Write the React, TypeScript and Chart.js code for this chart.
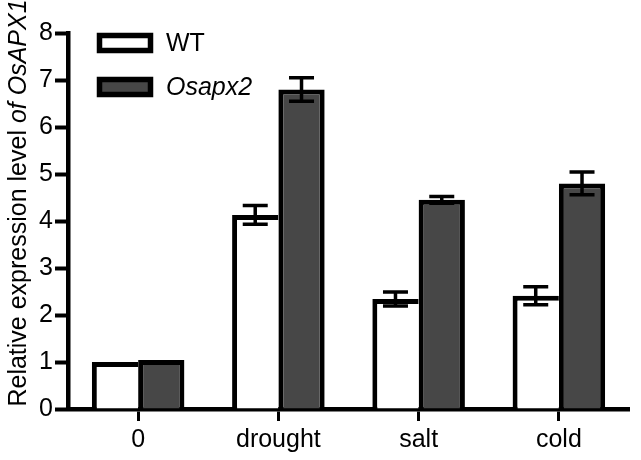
import React, { useEffect, useRef } from 'react';
import { Chart, registerables } from 'chart.js';

Chart.register(...registerables);

const categories = ['0', 'drought', 'salt', 'cold'];
const wtLabel = 'WT';
const mutLabel = 'Osapx2';
const wtValues = [1.0, 4.13, 2.34, 2.41];
const wtErrors = [0, 0.2, 0.15, 0.19];
const mutValues = [1.04, 6.8, 4.45, 4.8];
const mutErrors = [0, 0.25, 0.07, 0.24];
const yMin = 0;
const yMax = 8;
const yStep = 1;
const titlePlain = 'Relative expression level ';
const titleItalic = 'of OsAPX1';

const FONT = '"Liberation Sans", Arial, Helvetica, sans-serif';

const errorBarPlugin = {
  id: 'errorBars',
  afterDatasetsDraw(chart: any) {
    const ctx = chart.ctx;
    const yScale = chart.scales.y;
    const errs = [wtErrors, mutErrors];
    chart.data.datasets.forEach((ds: any, di: number) => {
      const meta = chart.getDatasetMeta(di);
      meta.data.forEach((bar: any, i: number) => {
        const e = errs[di][i];
        if (!e) return;
        const v = ds.data[i];
        const yTop = yScale.getPixelForValue(v + e);
        const yBot = yScale.getPixelForValue(v - e);
        const x = bar.x;
        const half = 12.5;
        ctx.save();
        ctx.strokeStyle = '#000';
        ctx.lineWidth = 3.5;
        ctx.beginPath();
        ctx.moveTo(x, yTop);
        ctx.lineTo(x, yBot);
        ctx.moveTo(x - half, yTop);
        ctx.lineTo(x + half, yTop);
        ctx.moveTo(x - half, yBot);
        ctx.lineTo(x + half, yBot);
        ctx.stroke();
        ctx.restore();
      });
    });
  },
};

const legendPlugin = {
  id: 'boxLegend',
  afterDraw(chart: any) {
    const ctx = chart.ctx;
    chart.data.datasets.forEach((ds: any, i: number) => {
      const bx = 99.5;
      const by = 35.5 + i * 44;
      const bw = 51;
      const bh = 15;
      ctx.save();
      ctx.fillStyle = ds.backgroundColor;
      ctx.fillRect(bx, by, bw, bh);
      ctx.strokeStyle = '#000';
      ctx.lineWidth = 5.5;
      ctx.strokeRect(bx, by, bw, bh);
      ctx.fillStyle = '#000';
      ctx.font = (i === 1 ? 'italic ' : '') + '25px ' + FONT;
      ctx.textBaseline = 'middle';
      ctx.textAlign = 'left';
      ctx.fillText(ds.label, 166, by + bh / 2 + 1);
      ctx.restore();
    });
  },
};

const yTitlePlugin = {
  id: 'yTitle',
  afterDraw(chart: any) {
    const ctx = chart.ctx;
    ctx.save();
    const fPlain = '25px ' + FONT;
    const fItalic = 'italic 25px ' + FONT;
    ctx.font = fPlain;
    const w1 = ctx.measureText(titlePlain).width;
    ctx.font = fItalic;
    const w2 = ctx.measureText(titleItalic).width;
    const total = w1 + w2;
    const cy = 203;
    ctx.translate(26, cy);
    ctx.rotate(-Math.PI / 2);
    ctx.fillStyle = '#000';
    ctx.textBaseline = 'alphabetic';
    ctx.textAlign = 'left';
    ctx.font = fPlain;
    ctx.fillText(titlePlain, -total / 2, 0);
    ctx.font = fItalic;
    ctx.fillText(titleItalic, -total / 2 + w1, 0);
    ctx.restore();
  },
};

export default function App() {
  const ref = useRef<HTMLCanvasElement>(null);
  useEffect(() => {
    if (!ref.current) return;
    const chart = new Chart(ref.current, {
      type: 'bar',
      data: {
        labels: categories,
        datasets: [
          {
            label: wtLabel,
            data: wtValues,
            backgroundColor: '#ffffff',
            borderColor: '#000000',
            borderWidth: { top: 5, left: 5, right: 0, bottom: 0 } as any,
            borderSkipped: false as any,
            barPercentage: 1,
            categoryPercentage: 0.66,
          },
          {
            label: mutLabel,
            data: mutValues,
            backgroundColor: '#474747',
            borderColor: '#000000',
            borderWidth: { top: 5, left: 5, right: 5, bottom: 0 } as any,
            borderSkipped: false as any,
            barPercentage: 1,
            categoryPercentage: 0.66,
          },
        ],
      },
      options: {
        responsive: false,
        animation: false,
        layout: { padding: { top: 33, right: 12, left: 0, bottom: 0 } },
        plugins: {
          legend: { display: false },
          tooltip: { enabled: false },
          title: { display: false },
        },
        scales: {
          x: {
            offset: true,
            grid: {
              display: true,
              offset: false,
              drawOnChartArea: false,
              tickLength: 12,
              tickWidth: 3,
              tickColor: '#000',
            },
            border: { display: true, width: 4.5, color: '#000' },
            ticks: {
              color: '#000',
              font: { family: FONT, size: 25 },
              padding: 4,
              maxRotation: 0,
            },
            afterFit(scale: any) {
              scale.height = 51;
            },
          },
          y: {
            min: yMin,
            max: yMax,
            grid: {
              display: true,
              drawOnChartArea: false,
              tickLength: 13,
              tickWidth: 4,
              tickColor: '#000',
            },
            border: { display: true, width: 4.5, color: '#000' },
            ticks: {
              stepSize: yStep,
              color: '#000',
              font: { family: FONT, size: 25 },
              padding: 2,
            },
            afterFit(scale: any) {
              scale.width = 68;
            },
          },
        },
      },
      plugins: [errorBarPlugin, legendPlugin, yTitlePlugin],
    });
    return () => chart.destroy();
  }, []);
  return (
    <div style={{ position: 'fixed', left: 0, top: 0, width: 641, height: 460, background: '#fff' }}>
      <canvas ref={ref} width={641} height={460} style={{ width: 641, height: 460, display: 'block' }} />
    </div>
  );
}
